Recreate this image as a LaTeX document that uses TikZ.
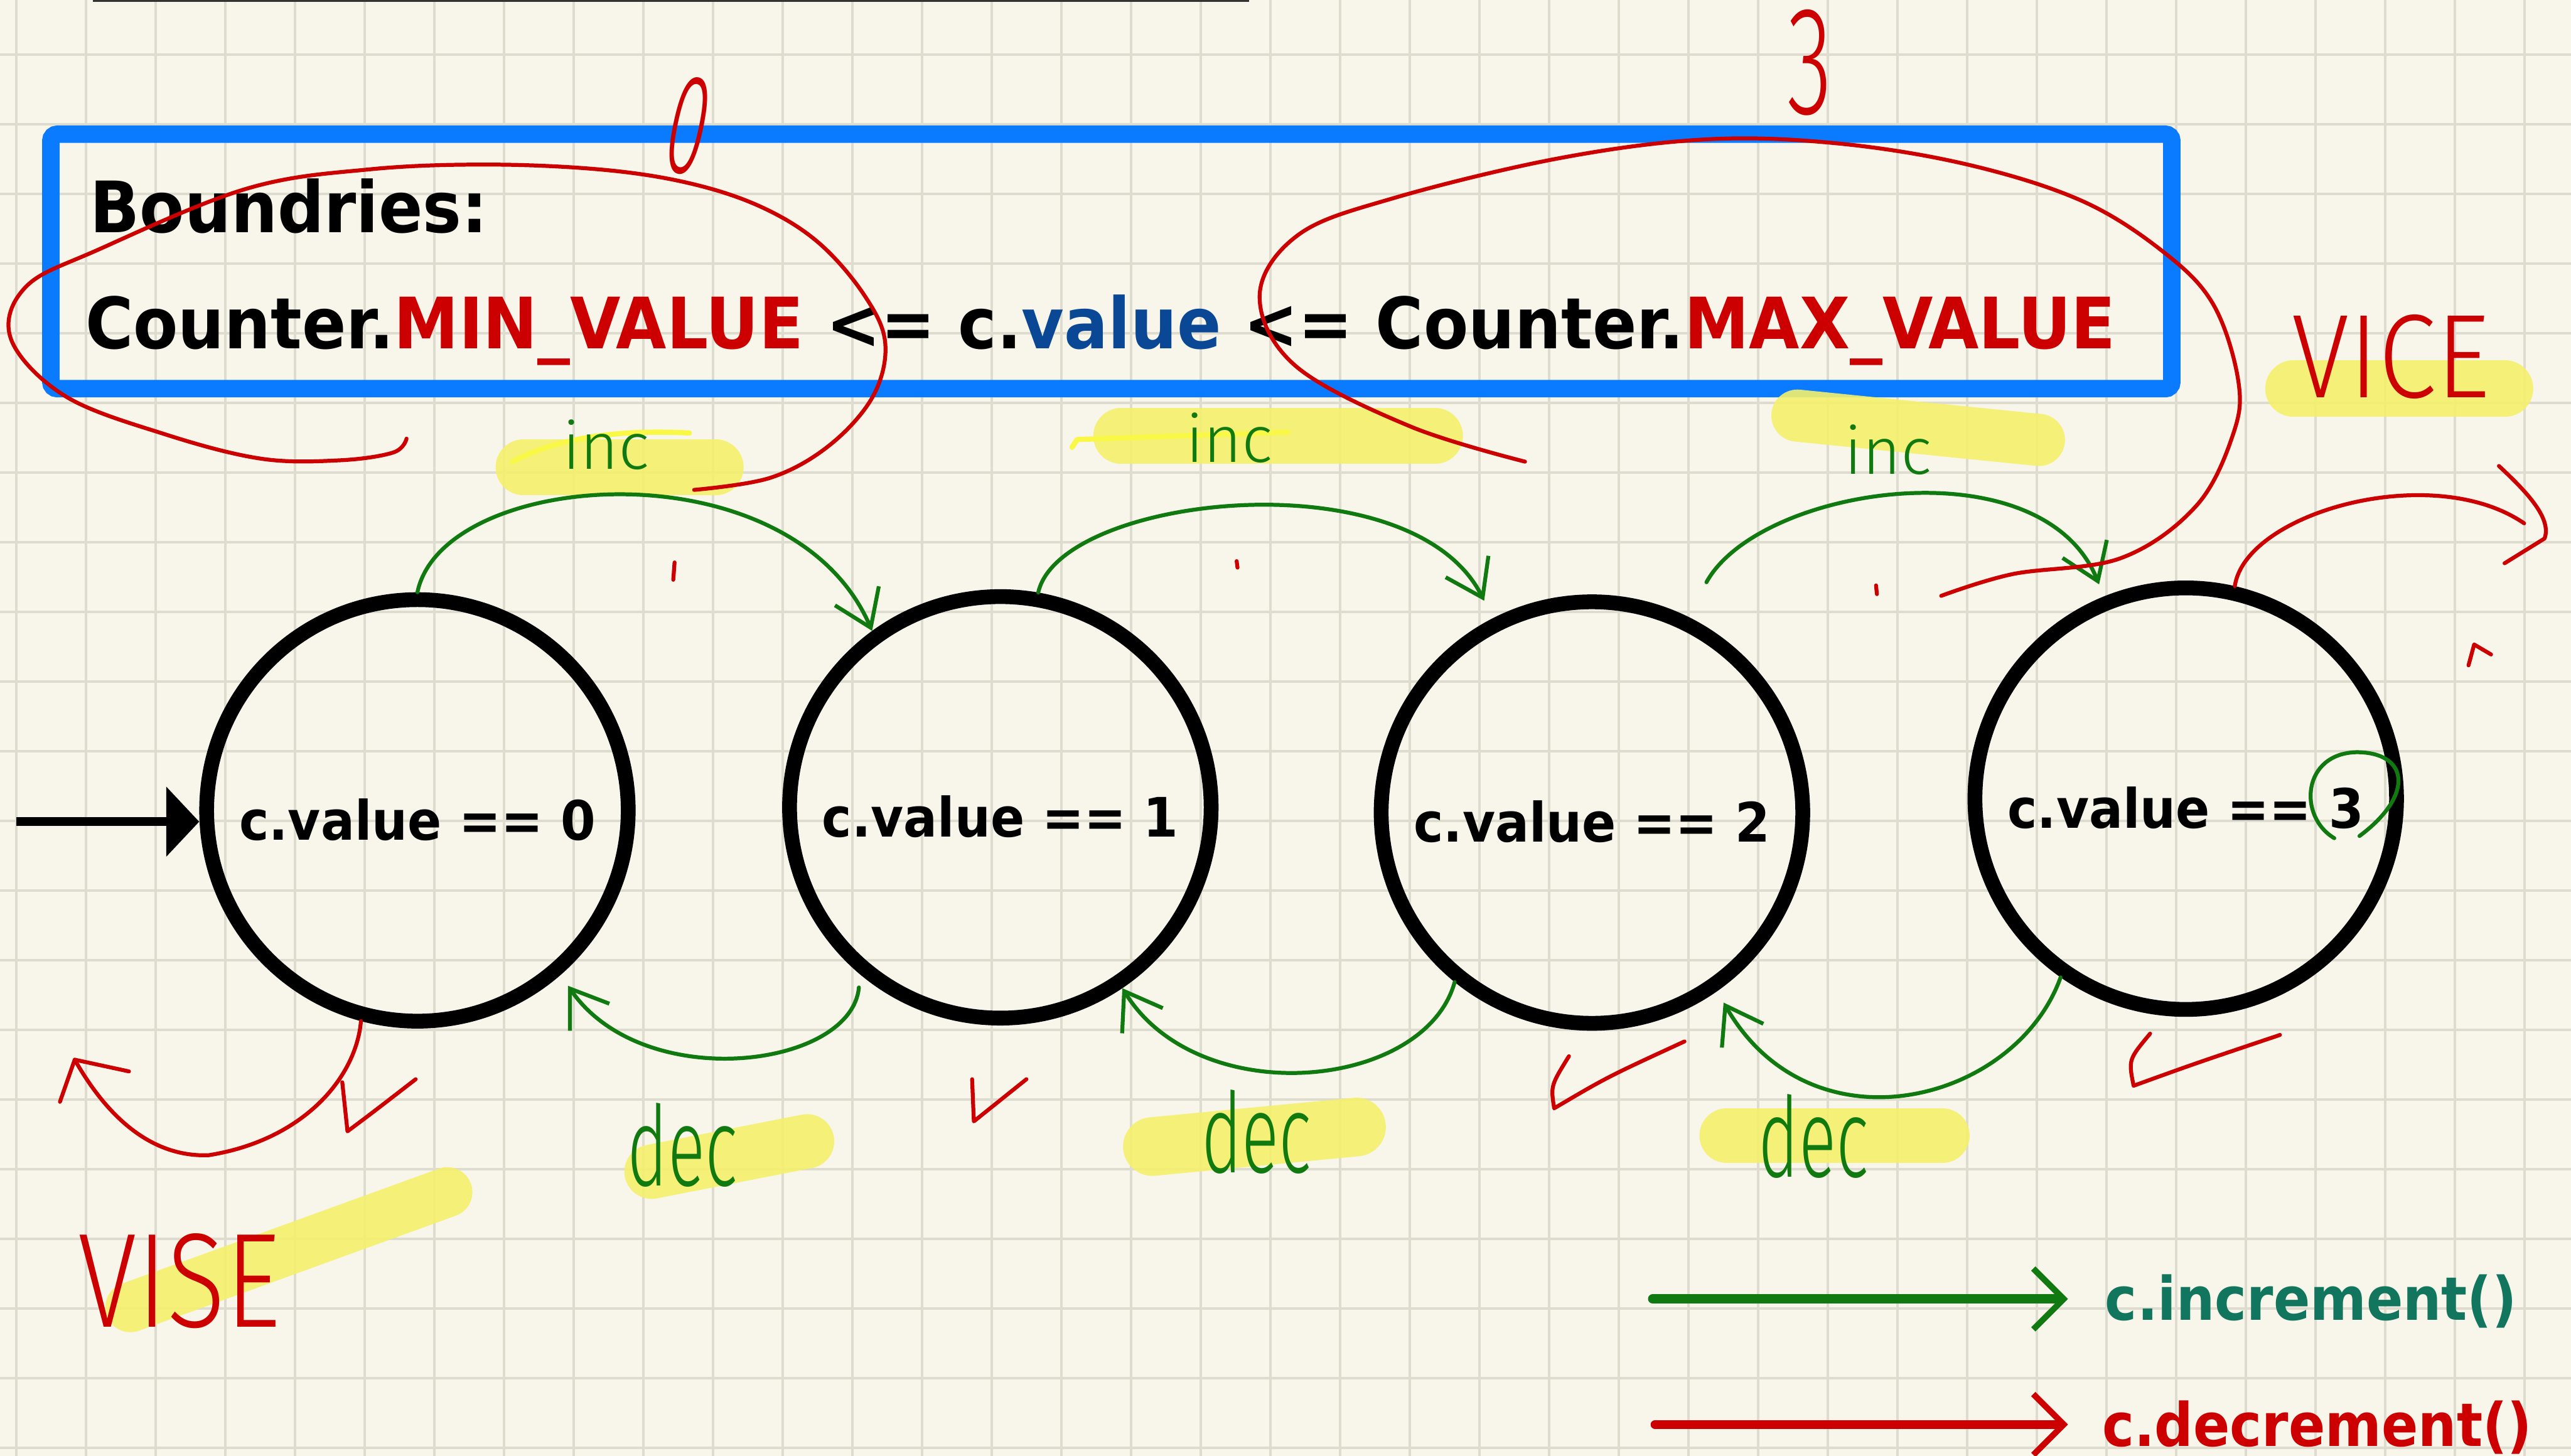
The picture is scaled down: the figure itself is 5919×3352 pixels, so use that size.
\documentclass[tikz,border=0pt]{standalone}
\usepackage{fontspec}
\usepackage{graphicx}
\setmainfont{DejaVu Sans}
\newfontfamily\hdfont{Fira Sans Light}
\usetikzlibrary{arrows.meta}
\definecolor{bg}{RGB}{248,246,235}
\definecolor{gridc}{RGB}{222,219,207}
\definecolor{boxblue}{RGB}{10,122,255}
\definecolor{valblue}{RGB}{10,72,150}
\definecolor{redc}{RGB}{204,0,0}
\definecolor{greenc}{RGB}{16,122,16}
\definecolor{tealc}{RGB}{18,118,94}
\definecolor{hl}{RGB}{244,240,108}
\definecolor{hlb}{RGB}{250,248,70}
\newcommand\bxfont{\fontsize{46.4}{55}\selectfont\bfseries}
\newcommand\stfont{\fontsize{35.6}{42}\selectfont\bfseries}
\newcommand\lgfont{\fontsize{39.3}{46}\selectfont\bfseries}
\newcommand\bxs[1]{\scalebox{0.92}[1]{#1}}
\newcommand\sts[1]{\scalebox{0.923}[1]{#1}}
\begin{document}
\begin{tikzpicture}[x=0.01cm,y=-0.01cm,
  gridline/.style={draw=gridc, line width=0.6mm},
  hlight/.style={draw=hl, line cap=round, opacity=0.9},
  stnode/.style={circle, draw=black, line width=3.4mm, minimum size=9.7cm, inner sep=0pt, font=\stfont, text height=13.5mm, text depth=0pt},
  grarrow/.style={draw=greenc, line width=0.9mm, line cap=round, line join=round, -{Straight Barb[length=8mm,width=11mm]}},
  grstroke/.style={draw=greenc, line width=0.9mm, line cap=round, line join=round},
  redstroke/.style={draw=redc, line width=0.9mm, line cap=round, line join=round},
  handlbl/.style={anchor=base, inner sep=0pt}
]
% paper
\fill[bg] (0,0) rectangle (5919,3352);
\useasboundingbox (0,0) rectangle (5919,3352);
\foreach \i in {0,...,36} \draw[gridline] ({38+160.4*\i},0) -- ({38+160.4*\i},3352);
\foreach \j in {0,...,20} \draw[gridline] (0,{126+160.4*\j}) -- (5919,{126+160.4*\j});
\fill[black!80] (214,-10) rectangle (2875,5);

% boundaries box
\draw[boxblue, line width=4mm, rounded corners=1.5mm] (117,309) rectangle (5000,895);
\node[anchor=base west, inner sep=0pt, font=\bxfont] (bnd) at (207,536) {\bxs{Boundries:}};
\node[anchor=base west, inner sep=0pt, font=\bxfont] (rng) at (196,803)
  {\bxs{Counter.\textcolor{redc}{MIN\_VALUE} <= c.\textcolor{valblue}{value} <= Counter.\textcolor{redc}{MAX\_VALUE}}};

% highlighter strokes
\draw[hlight, line width=12.8mm] (1205,1076) -- (1648,1076);
\draw[hlight, line width=12.8mm] (2581,1004) -- (3304,1004);
\draw[hlight, line width=12mm] (4138,957) -- (4694,1013);
\draw[hlight, line width=12.5mm] (1500,2698) -- (1858,2628);
\draw[hlight, line width=13.5mm] (2653,2640) -- (3123,2595);
\draw[hlight, line width=12.5mm] (3975,2615) -- (4472,2615);
\draw[hlight, line width=11.5mm] (300,3010) -- (1030,2745);
\draw[hlight, line width=13mm] (5280,895) -- (5767,895);
\draw[draw=hlb, line width=1.2mm, line cap=round] (1180,1063) .. controls (1300,1000) and (1450,990) .. (1587,997);
\draw[draw=hlb, line width=1.2mm, line cap=round, line join=round] (2468,1030) -- (2480,1012) -- (2965,995);

% states
\node[stnode] (c0) at (961,1866) {\sts{c.value == 0}};
\node[stnode] (c1) at (2303,1859) {\sts{c.value == 1}};
\node[stnode] (c2) at (3665,1871) {\sts{c.value == 2}};
\node[stnode] (c3) at (5032,1839) {\sts{c.value == 3}};

% initial arrow
\coordinate (init) at (38,1892);
\draw[line width=2mm, -{Triangle[length=7.6mm,width=15.7mm]}] (init) -- (init -| c0.west);

% increments
\draw[grarrow] (c0.north) .. controls (1020,1080) and (1820,1020) .. (c1.126);
\draw[grarrow, shorten >=4.5mm] (c1.80) .. controls (2440,1140) and (3250,1050) .. (c2.117);
\draw[grarrow, shorten <=9mm, shorten >=3mm] (c2.64) .. controls (4050,1120) and (4700,1020) .. (c3.112);
% decrements
\draw[grarrow, shorten <=3mm, shorten >=3mm] (c1.230) .. controls (1960,2460) and (1480,2520) .. (c0.311);
\draw[grarrow] (c2.231) .. controls (3280,2510) and (2760,2560) .. (c1.304);
\draw[grarrow, shorten >=3mm] (c3.235) .. controls (4640,2540) and (4170,2660) .. (c2.305);
% circle round the 3
\draw[grstroke] (5374,1930) .. controls (5290,1880) and (5300,1735) .. (5425,1732) .. controls (5545,1732) and (5560,1830) .. (5432,1925);

% handwritten labels
\node[handlbl, text=greenc, font={\hdfont\fontsize{43}{50}\selectfont}] (inc1) at (1395,1080) {inc};
\node[handlbl, text=greenc, font={\hdfont\fontsize{43}{50}\selectfont}] (inc2) at (2830,1065) {inc};
\node[handlbl, text=greenc, font={\hdfont\fontsize{43}{50}\selectfont}] (inc3) at (4347,1092) {inc};
\node[handlbl, text=greenc, font={\hdfont\fontsize{73}{80}\selectfont}] (dec1) at (1571,2730) {\scalebox{0.62}[1]{dec}};
\node[handlbl, text=greenc, font={\hdfont\fontsize{73}{80}\selectfont}] (dec2) at (2893,2700) {\scalebox{0.62}[1]{dec}};
\node[handlbl, text=greenc, font={\hdfont\fontsize{73}{80}\selectfont}] (dec3) at (4175,2710) {\scalebox{0.62}[1]{dec}};
\node[text=redc, inner sep=0pt, rotate=-12, font={\hdfont\fontsize{94}{100}\selectfont}] (zero) at (1585,290) {\scalebox{0.5}[1]{0}};
\node[text=redc, inner sep=0pt, font={\hdfont\fontsize{101}{110}\selectfont}] (three) at (4166,144) {\scalebox{0.6}[1]{3}};
\node[handlbl, text=redc, font={\hdfont\fontsize{88}{100}\selectfont}] (vise) at (413,3055) {\scalebox{0.8}[1]{VISE}};
\node[handlbl, text=redc, font={\hdfont\fontsize{78}{85}\selectfont}] (vice) at (5505,915) {\scalebox{0.88}[1]{VICE}};

% red annotations
\draw[redstroke] plot[smooth, tension=0.6] coordinates {(936,1010) (905,1042) (780,1060) (600,1056) (380,1000) (150,912) (25,780) (60,660) (226,575) (566,435) (850,390) (1132,379) (1400,392) (1600,425) (1760,480) (1887,561) (1990,680) (2038,790) (2010,912) (1910,1025) (1774,1100) (1598,1128)};
\draw[redstroke] plot[smooth, tension=0.6] coordinates {(3511,1063) (3247,982) (2982,842) (2900,680) (2990,540) (3209,456) (3586,365) (3926,321) (4228,330) (4530,379) (4794,463) (4983,582) (5096,702) (5153,877) (5141,1000) (5056,1165) (4883,1285) (4633,1322) (4469,1372)};
\coordinate (visetip) at (172,2440);
\draw[redstroke] (c0.255) .. controls (820,2480) and (700,2625) .. (480,2660) .. controls (340,2665) and (240,2560) .. (visetip);
\draw[redstroke] (297,2467) -- (visetip) -- (138,2537);
\coordinate (vicetip) at (5858,1240);
\draw[redstroke] (c3.77) .. controls (5170,1180) and (5600,1060) .. (5811,1205);
\draw[redstroke] (5753,1073) .. controls (5820,1135) and (5875,1195) .. (vicetip) -- (5766,1297);
% check marks and small marks
\draw[redstroke] (788,2492) -- (800,2605) .. controls (860,2560) .. (957,2485);
\draw[redstroke] (2238,2485) -- (2242,2582) -- (2363,2485);
\draw[redstroke] (3612,2432) .. controls (3570,2500) .. (3578,2552) .. controls (3700,2480) .. (3878,2398);
\draw[redstroke] (4950,2380) .. controls (4900,2440) .. (4912,2500) .. controls (5050,2450) .. (5249,2383);
\draw[redstroke] (5683,1532) -- (5696,1484) -- (5735,1507);
\draw[redstroke] (1553,1295) -- (1550,1335);
\draw[redstroke] (2847,1292) -- (2849,1307);
\draw[redstroke] (4319,1348) -- (4321,1368);

% legend
\node[anchor=base west, inner sep=0pt, text=tealc, font=\lgfont] (inctxt) at (4846,3040) {\scalebox{0.9}[1]{c.increment()}};
\node[anchor=base west, inner sep=0pt, text=redc, font=\lgfont] (dectxt) at (4839,3330) {\scalebox{0.9}[1]{c.decrement()}};
\coordinate (lgi) at (3805,2991);
\coordinate (lgd) at (3810,3280);
\draw[draw=greenc, line width=2.2mm, line cap=round, -{Straight Barb[length=7mm,width=14mm,line width=1.4mm]}, shorten >=8.5mm] (lgi) -- (lgi -| inctxt.west);
\draw[draw=redc, line width=2mm, line cap=round, -{Straight Barb[length=7mm,width=14mm,line width=1.4mm]}, shorten >=7.8mm] (lgd) -- (lgd -| dectxt.west);
\end{tikzpicture}
\end{document}
